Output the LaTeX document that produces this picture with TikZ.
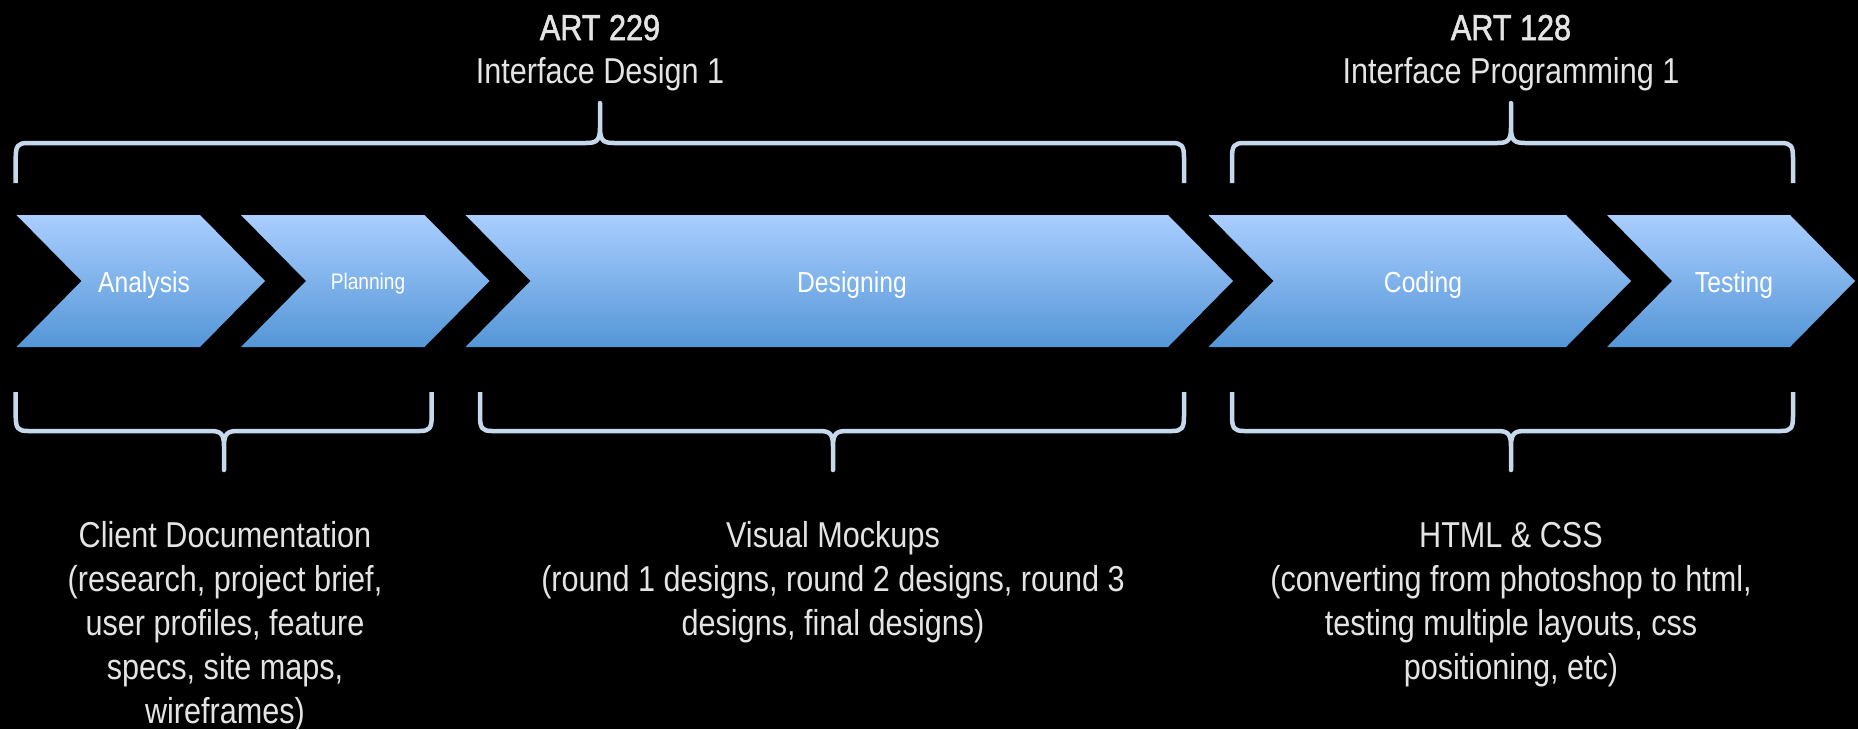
\documentclass[tikz,border=0pt]{standalone}
\usepackage{fontspec}
\setmainfont{Liberation Sans}[FakeStretch=0.85]
\newfontfamily\medfont{Liberation Sans}[FakeStretch=0.85, FakeBold=1.6]
\definecolor{chevtop}{RGB}{170,206,255}
\definecolor{chevbot}{RGB}{84,150,215}
\definecolor{bracecol}{RGB}{197,216,236}
\definecolor{txtgrey}{RGB}{228,228,228}
\newcommand\bracetop[3]{%
  \draw[brace] (#1,183) -- (#1,158) .. controls (#1,146) and (#1+2,143) .. (#1+12,143)
    -- (#2-14,143) .. controls (#2-4,143) and (#2,141) .. (#2,128) -- (#2,103)
    -- (#2,128) .. controls (#2,141) and (#2+4,143) .. (#2+14,143)
    -- (#3-12,143) .. controls (#3-2,143) and (#3,146) .. (#3,158) -- (#3,183);}
\newcommand\bracebot[3]{%
  \draw[brace] (#1,392) -- (#1,416) .. controls (#1,428) and (#1+2,431) .. (#1+12,431)
    -- (#2-14,431) .. controls (#2-4,431) and (#2,433) .. (#2,446) -- (#2,470)
    -- (#2,446) .. controls (#2,433) and (#2+4,431) .. (#2+14,431)
    -- (#3-12,431) .. controls (#3-2,431) and (#3,428) .. (#3,416) -- (#3,392);}
\newcommand\chevron[2]{% #1 = left x, #2 = right x (top corner)
  \shade[chev] (#1,215) -- (#2,215) -- (#2+65,281) -- (#2,347) -- (#1,347) -- (#1+65,281) -- cycle;}
\begin{document}
\begin{tikzpicture}[x=1pt,y=-1pt,
  chev/.style={top color=chevtop, bottom color=chevbot, draw=none},
  brace/.style={draw=bracecol, line width=4.5pt, line join=round, line cap=butt},
  chevlabel/.style={text=white, font=\fontsize{29}{34}\selectfont, anchor=base, inner sep=0pt},
  headbold/.style={text=txtgrey, font=\fontsize{36}{44}\selectfont\medfont, anchor=base, inner sep=0pt},
  headtext/.style={text=txtgrey, font=\fontsize{36}{44}\selectfont, anchor=base, inner sep=0pt},
  caption/.style={text=txtgrey, font=\fontsize{36}{44}\selectfont, align=center, anchor=base, inner sep=0pt}]
\fill[black] (0,0) rectangle (1858,729);
\useasboundingbox (0,0) rectangle (1858,729);

% chevrons
\chevron{16.5}{200}
\chevron{241}{424.5}
\chevron{465.5}{1168}
\chevron{1208.5}{1566}
\chevron{1607}{1790}

\node[chevlabel] (analysis) at (144,292) {Analysis};
\node[chevlabel, font=\fontsize{22.5}{27}\selectfont] (planning) at (368,289) {Planning};
\node[chevlabel] (designing) at (852,292) {Designing};
\node[chevlabel] (coding) at (1423,292) {Coding};
\node[chevlabel] (testing) at (1734,292) {Testing};

% headings
\node[headbold] (art229) at (600,40) {ART 229};
\node[headtext] (design1) at (600,83) {Interface Design 1};
\node[headbold] (art128) at (1511,40) {ART 128};
\node[headtext] (prog1) at (1511,83) {Interface Programming 1};

% braces
\bracetop{15.7}{600}{1184}
\bracetop{1232}{1511}{1793}
\bracebot{15.7}{224}{431.7}
\bracebot{480}{833}{1184}
\bracebot{1232}{1511}{1793}

% captions (anchor base = baseline of the last line)
\node[caption] (clientdoc) at (225,723) {Client Documentation\\(research, project brief,\\user profiles, feature\\specs, site maps,\\wireframes)};
\node[caption] (mockups) at (833,635) {Visual Mockups\\(round 1 designs, round 2 designs, round 3\\designs, final designs)};
\node[caption] (htmlcss) at (1511,679) {HTML \& CSS\\(converting from photoshop to html,\\testing multiple layouts, css\\positioning, etc)};
\end{tikzpicture}
\end{document}
